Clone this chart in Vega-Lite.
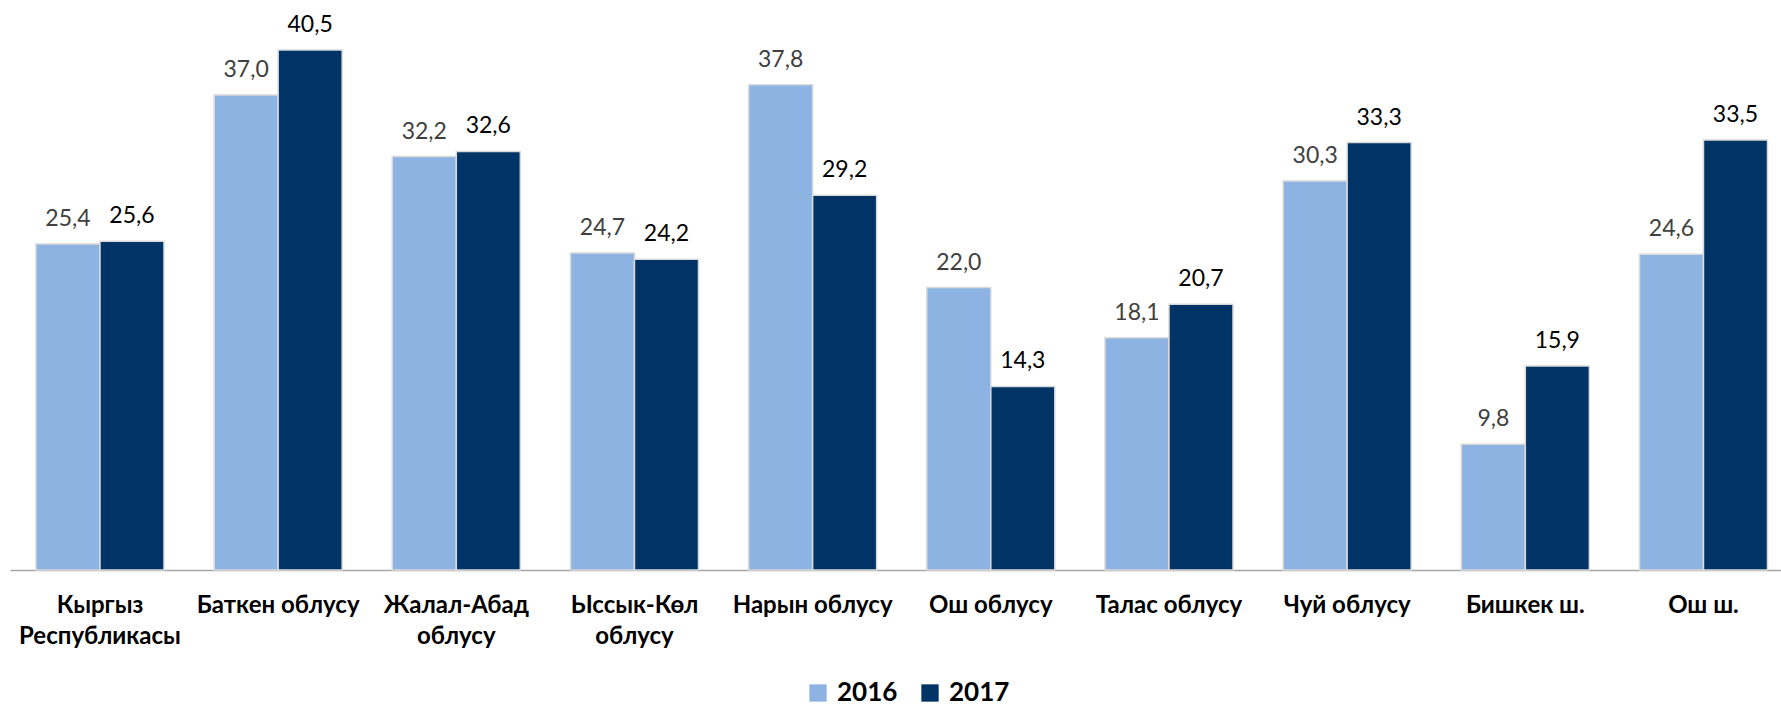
{
  "$schema": "https://vega.github.io/schema/vega-lite/v6.json",
  "autosize": "none",
  "width": 1771,
  "height": 570,
  "padding": {"left": 10, "top": 0, "right": 0, "bottom": 139},
  "background": "white",
  "config": {
    "view": {"stroke": null},
    "locale": {"number": {"decimal": ",", "thousands": " ", "grouping": [3], "currency": ["", ""]}}
  },
  "data": {"values": [
    {"region": "Кыргыз Республикасы", "year": "2016", "value": 25.4},
    {"region": "Кыргыз Республикасы", "year": "2017", "value": 25.6},
    {"region": "Баткен облусу", "year": "2016", "value": 37.0},
    {"region": "Баткен облусу", "year": "2017", "value": 40.5},
    {"region": "Жалал-Абад облусу", "year": "2016", "value": 32.2},
    {"region": "Жалал-Абад облусу", "year": "2017", "value": 32.6},
    {"region": "Ыссык-Көл облусу", "year": "2016", "value": 24.7},
    {"region": "Ыссык-Көл облусу", "year": "2017", "value": 24.2},
    {"region": "Нарын облусу", "year": "2016", "value": 37.8},
    {"region": "Нарын облусу", "year": "2017", "value": 29.2},
    {"region": "Ош облусу", "year": "2016", "value": 22.0},
    {"region": "Ош облусу", "year": "2017", "value": 14.3},
    {"region": "Талас облусу", "year": "2016", "value": 18.1},
    {"region": "Талас облусу", "year": "2017", "value": 20.7},
    {"region": "Чуй облусу", "year": "2016", "value": 30.3},
    {"region": "Чуй облусу", "year": "2017", "value": 33.3},
    {"region": "Бишкек ш.", "year": "2016", "value": 9.8},
    {"region": "Бишкек ш.", "year": "2017", "value": 15.9},
    {"region": "Ош ш.", "year": "2016", "value": 24.6},
    {"region": "Ош ш.", "year": "2017", "value": 33.5}
  ]},
  "encoding": {
    "x": {
      "field": "region", "type": "nominal", "sort": null, "title": null,
      "scale": {"paddingInner": 0.2816, "paddingOuter": 0.1108, "align": 0.658},
      "axis": {
        "labelAngle": 0, "ticks": false, "domainColor": "#a6a6a6", "domainWidth": 1.5,
        "labelFont": "Lato", "labelFontWeight": "bold", "labelFontSize": 24, "labelColor": "#000000",
        "labelPadding": 23, "labelLineHeight": 31, "labelBaseline": "top", "labelLimit": 0,
        "labelExpr": "datum.value == 'Кыргыз Республикасы' ? ['Кыргыз', 'Республикасы'] : datum.value == 'Жалал-Абад облусу' ? ['Жалал-Абад', 'облусу'] : datum.value == 'Ыссык-Көл облусу' ? ['Ыссык-Көл', 'облусу'] : datum.value"
      }
    },
    "xOffset": {"field": "year", "type": "nominal"},
    "y": {
      "field": "value", "type": "quantitative",
      "scale": {"domain": [0, 44.4], "nice": false, "zero": true},
      "axis": null
    }
  },
  "layer": [
    {
      "mark": {"type": "bar", "stroke": "#d9d9d9", "strokeWidth": 1.5},
      "encoding": {
        "color": {
          "field": "year", "type": "nominal",
          "scale": {"domain": ["2016", "2017"], "range": ["#8DB3E2", "#003366"]},
          "legend": {
            "title": null, "orient": "none", "direction": "horizontal",
            "legendX": 795, "legendY": 680,
            "symbolType": "square", "symbolSize": 300, "symbolStrokeWidth": 0,
            "labelFont": "Lato", "labelFontWeight": "bold", "labelFontSize": 26, "labelColor": "#000000",
            "labelOffset": 6, "columnPadding": 19, "padding": 0
          }
        }
      }
    },
    {
      "mark": {"type": "text", "baseline": "alphabetic", "dy": -18, "font": "Lato", "fontSize": 23},
      "encoding": {
        "text": {"field": "value", "type": "quantitative", "format": ".1f"},
        "fontWeight": {"condition": {"test": "datum.year == '2017'", "value": "bold"}, "value": "normal"},
        "color": {"condition": {"test": "datum.year == '2017'", "value": "#000000"}, "value": "#404040"}
      }
    }
  ]
}
